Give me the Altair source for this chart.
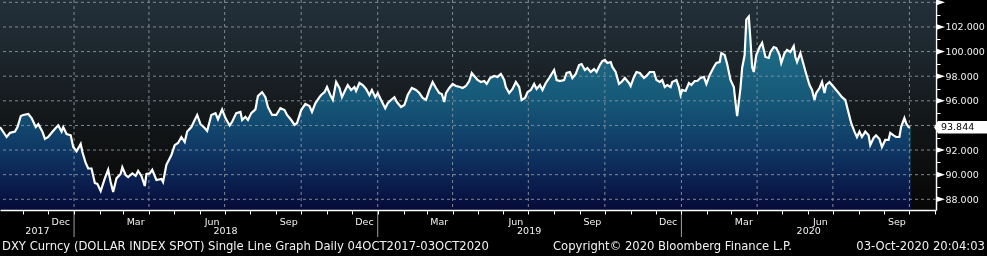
import altair as alt
import pandas as pd

START = "2017-10-04"

day_offsets = [
    0, 8, 12, 18, 21, 25, 28, 34, 38, 43,
    46, 51, 54, 58, 62, 67, 70, 74, 76, 80,
    85, 88, 92, 97, 99, 103, 106, 110, 114, 117,
    121, 126, 130, 133, 136, 140, 145, 147, 151, 154,
    159, 163, 166, 170, 174, 176, 180, 183, 188, 194,
    196, 200, 206, 210, 214, 218, 222, 225, 230, 234,
    237, 241, 246, 249, 254, 259, 262, 267, 271, 276,
    279, 284, 289, 291, 295, 298, 302, 307, 310, 315,
    319, 322, 327, 332, 337, 342, 345, 350, 354, 357,
    362, 367, 372, 375, 379, 384,
    386, 390, 393, 397, 400, 404, 408, 411, 415, 418,
    422, 426, 428, 432, 436, 440, 444, 447, 451, 454,
    458, 463, 466, 470, 474, 477, 482, 486, 490, 495,
    500, 504, 508, 512, 516, 520, 524, 528, 531, 534,
    536, 540, 544, 548, 553, 556, 560, 564, 567, 571,
    574, 578, 582, 585, 589, 594, 598, 602, 606, 608,
    612, 616, 620, 624, 627, 631, 634, 638, 642, 645,
    649, 652, 656, 660, 666, 669, 673, 678, 681, 685,
    688, 692, 696, 699, 703, 706, 710, 714, 717, 721,
    724, 727, 730, 734, 736, 740, 744, 747, 751, 756,
    758, 762, 765, 769, 774, 777, 781,
    786, 789, 793, 796, 799, 802, 806, 808, 813, 816,
    818, 820, 824, 828, 831, 835, 838, 842, 846, 849,
    853, 858, 861, 865, 867, 871, 874, 878, 882, 884,
    886, 890, 892, 895, 897, 900, 902, 904, 906, 909,
    913, 916, 920, 924, 926, 930, 933, 937, 939, 943,
    946, 950, 954, 956, 958, 962, 966, 969, 973, 976,
    979, 981, 985, 988, 991, 993, 997, 1000, 1004, 1008,
    1012, 1016, 1020, 1023, 1027, 1030, 1033, 1036, 1040, 1044,
    1046, 1050, 1053, 1057, 1060, 1064, 1068, 1070, 1074, 1077,
    1081, 1083, 1087, 1089, 1092, 1094,
]

dxy_values = [
    93.87, 93.06, 93.4, 93.5, 93.87, 94.77, 94.85, 94.93, 94.6, 93.87,
    94.1, 93.5, 92.9, 93.06, 93.4, 93.79, 94.0, 93.5, 93.87, 93.3,
    93.2, 92.25, 91.9, 92.5, 91.84, 90.95, 90.5, 90.5, 89.33, 89.25,
    88.67, 89.7, 90.4, 89.4, 88.6, 89.7, 90.05, 90.6, 89.97, 89.8,
    90.1, 89.9, 90.3, 89.9, 89.08, 90.05, 90.1, 90.4, 89.57, 89.65,
    89.4, 90.8, 91.6, 92.4, 92.57, 93.06, 92.65, 93.5, 93.87, 94.44,
    94.85, 94.1, 93.79, 93.55, 94.85, 95.0, 94.5, 95.3, 94.6, 94.0,
    94.3, 95.0, 95.1, 94.44, 94.7, 94.44, 95.0, 95.3, 96.39, 96.7,
    96.3, 95.5, 94.85, 94.85, 95.4, 95.25, 94.85, 94.44, 94.04, 94.2,
    95.25, 95.74, 95.58, 95.1, 95.8, 96.3,
    96.47, 96.7, 97.12, 96.47, 96.07, 97.53, 97.04, 96.3, 96.88, 97.28,
    96.88, 97.12, 96.8, 97.45, 97.28, 96.96, 96.47, 96.88, 96.3, 96.63,
    96.07, 95.4, 95.8, 96.07, 96.3, 95.9, 95.5, 95.66, 96.47, 97.04,
    96.88, 96.63, 96.23, 96.07, 96.88, 97.53, 97.04, 96.63, 96.55, 95.9,
    96.63, 97.04, 97.37, 97.2, 97.12, 97.04, 97.2, 97.61, 98.26, 97.94,
    97.69, 97.53, 97.61, 97.37, 97.85, 98.02, 97.94, 98.18, 97.69, 97.12,
    96.63, 96.96, 97.53, 97.12, 96.07, 96.23, 96.7, 96.88, 97.37, 96.96,
    97.28, 96.88, 97.45, 97.85, 98.5, 97.69, 97.61, 97.69, 98.26, 98.34,
    97.85, 98.18, 98.91, 98.99, 98.5, 98.67, 98.34, 98.58, 98.34, 98.91,
    99.23, 99.32, 99.07, 99.15, 98.75, 98.34, 97.37, 97.53, 97.85, 97.45,
    97.2, 97.94, 98.34, 98.26, 97.85, 98.02, 98.34,
    98.34, 97.69, 97.53, 97.69, 97.12, 97.28, 97.12, 97.53, 97.69, 97.12,
    96.47, 96.88, 96.8, 97.45, 97.28, 97.61, 97.61, 97.85, 97.94, 97.37,
    98.1, 98.75, 99.07, 99.15, 99.88, 99.72, 98.99, 97.69, 97.12, 95.9,
    94.75, 97.04, 98.67, 99.72, 102.6, 102.85, 100.94, 98.75, 98.34, 99.72,
    100.37, 100.7, 99.56, 99.48, 99.97, 100.37, 100.29, 99.72, 99.07, 99.88,
    100.13, 99.97, 100.45, 99.56, 99.15, 99.88, 98.91, 98.18, 97.28, 96.88,
    96.07, 96.63, 97.04, 97.53, 96.63, 97.28, 97.53, 97.28, 96.96, 96.63,
    96.3, 96.07, 95.0, 94.2, 93.5, 93.06, 93.5, 93.06, 93.5, 93.2,
    92.4, 92.98, 93.2, 92.9, 92.25, 92.82, 92.82, 93.4, 93.2, 93.06,
    93.06, 93.87, 94.6, 94.2, 93.87, 93.844,
]

assert len(day_offsets) == len(dxy_values)

y_tick_values = list(range(88, 105))
y_major_values = [88, 90, 92, 94, 96, 98, 100, 102, 104]

quarter_grid_dates = [
    "2018-01-01", "2018-04-01", "2018-07-01", "2018-10-01",
    "2019-01-01", "2019-04-01", "2019-07-01", "2019-10-01",
    "2020-01-01", "2020-04-01", "2020-07-01", "2020-10-01",
]

year_label_dates = ["2017-11-18", "2018-07-02", "2019-07-02", "2020-06-02"]
year_labels = ["2017", "2018", "2019", "2020"]
year_break_dates = ["2018-01-01", "2019-01-01", "2020-01-01"]

footer_left = "DXY Curncy (DOLLAR INDEX SPOT) Single Line Graph  Daily 04OCT2017-03OCT2020"
footer_mid = "Copyright\u00a9 2020 Bloomberg Finance L.P."
footer_right = "03-Oct-2020 20:04:03"

W, H = 936, 210
FONT = "DejaVu Sans"
LBL = "#f2f2f2"
GRID = "#7f8a94"

df = pd.DataFrame({
    "date": pd.to_datetime(START) + pd.to_timedelta(day_offsets, unit="D"),
    "value": dxy_values,
})
last_df = df.tail(1)
last_value = dxy_values[-1]

x_scale = alt.Scale(domain=[alt.DateTime(year=2017, month=10, date=4),
                            alt.DateTime(year=2020, month=11, date=2)])
y_scale = alt.Scale(domain=[87.13, 104.19], nice=False, zero=False)

month_ticks = []
for yr in range(2017, 2021):
    for mo in range(1, 13):
        if (2017, 11) <= (yr, mo) <= (2020, 11):
            month_ticks.append(alt.DateTime(year=yr, month=mo, date=1))

x_axis = alt.Axis(
    values=month_ticks, title=None, grid=False,
    labelExpr="(month(datum.value) % 3 == 2) ? timeFormat(datum.value, '%b') : ''",
    labelOffset=12, labelColor=LBL, labelFont=FONT, labelFontSize=9.5,
    labelPadding=2, labelOverlap=False, labelFlush=False, labelBound=False,
    tickSize=4, tickColor="white", domainColor="white", domainWidth=1.5,
    zindex=1,
)
# the last-value flag covers the tick label next to it, as in the original
y_axis = alt.Axis(
    values=y_tick_values, orient="right", title=None, grid=False,
    labelExpr=("(datum.value % 2 == 0 && datum.value < 104 && "
               f"abs(datum.value - {last_value}) > 1) ? format(datum.value, '.3f') : ''"),
    labelColor=LBL, labelFont=FONT, labelFontSize=9.5, labelPadding=5,
    labelOverlap=False, labelFlush=False, labelBound=False,
    tickSize=4, tickColor="white", domainColor="white", domainWidth=1.5,
)

X = lambda f: alt.X(f, scale=x_scale, axis=x_axis)
Y = lambda f: alt.Y(f, scale=y_scale, axis=y_axis, stack=None)

one = pd.DataFrame({"k": [0]})

# plot background (dark gradient)
bg = alt.Chart(one).mark_rect(
    color=alt.Gradient(gradient="linear", x1=0, x2=0, y1=0, y2=1,
                       stops=[alt.GradientStop(offset=0, color="#23303a"),
                              alt.GradientStop(offset=0.24, color="#1d272e"),
                              alt.GradientStop(offset=0.5, color="#151a1d"),
                              alt.GradientStop(offset=0.71, color="#0f1112"),
                              alt.GradientStop(offset=0.9, color="#0a0a0a"),
                              alt.GradientStop(offset=1, color="#060606")])
).encode(x=alt.value(0), x2=alt.value(W - 1), y=alt.value(0), y2=alt.value(H))

# area under the line as a white mask
area = alt.Chart(df).mark_area(color="white", clip=True).encode(
    x=X("date:T"), y=Y("value:Q"), y2=alt.value(H)
)

# teal gradient, darkened onto the mask
fill = alt.Chart(one).mark_rect(
    blend="darken",
    color=alt.Gradient(gradient="linear", x1=0, x2=0, y1=0, y2=1,
                       stops=[alt.GradientStop(offset=0, color="#23728b"),
                              alt.GradientStop(offset=0.24, color="#1d6a84"),
                              alt.GradientStop(offset=0.5, color="#155677"),
                              alt.GradientStop(offset=0.71, color="#0f3865"),
                              alt.GradientStop(offset=0.9, color="#0a1a4a"),
                              alt.GradientStop(offset=1, color="#060a36")])
).encode(x=alt.value(0), x2=alt.value(W - 1), y=alt.value(0), y2=alt.value(H))

vgrid = alt.Chart(pd.DataFrame({"date": pd.to_datetime(quarter_grid_dates)})).mark_rule(
    color=GRID, strokeWidth=1, strokeDash=[3, 3]
).encode(x=X("date:T"))

hgrid = alt.Chart(pd.DataFrame({"value": y_major_values})).mark_rule(
    color=GRID, strokeWidth=1, strokeDash=[3, 3]
).encode(y=Y("value:Q"))

line = alt.Chart(df).mark_line(color="white", strokeWidth=2.2).encode(
    x=X("date:T"), y=Y("value:Q"),
)

arrows = alt.Chart(pd.DataFrame({"value": y_major_values})).mark_point(
    shape="M0,-0.34L1,0L0,0.34Z", filled=True, color="white", opacity=1,
    size=324, strokeWidth=0,
).encode(x=alt.value(W), y=Y("value:Q"))

box = alt.Chart(last_df).mark_point(
    shape="M-1.12,0L-0.96,-0.25L1,-0.25L1,0.25L-0.96,0.25Z", filled=True,
    color="white", opacity=1, size=2500, strokeWidth=0,
).encode(x=alt.value(962), y=Y("value:Q"))

box_text = alt.Chart(last_df).mark_text(
    align="left", baseline="middle", font=FONT, fontSize=9.5, color="#000000",
).encode(x=alt.value(941), y=Y("value:Q"),
         text=alt.Text("value:Q", format=".3f"))

years = alt.Chart(pd.DataFrame({"date": pd.to_datetime(year_label_dates), "t": year_labels})).mark_text(
    align="center", baseline="middle", font=FONT, fontSize=9.5, color=LBL,
).encode(x=X("date:T"), y=alt.value(231), text="t:N")

breaks = alt.Chart(pd.DataFrame({"date": pd.to_datetime(year_break_dates)})).mark_rule(
    color="#a0a0a0", strokeWidth=1,
).encode(x=X("date:T"), y=alt.value(211), y2=alt.value(237))

def footer(txt, xpos, align):
    return alt.Chart(pd.DataFrame({"t": [txt]})).mark_text(
        align=align, baseline="middle", font=FONT, fontSize=11.6, color=LBL,
    ).encode(x=alt.value(xpos), y=alt.value(247), text="t:N")

chart = alt.layer(
    bg, area, fill, vgrid, hgrid, line, arrows, box, box_text, years, breaks,
    footer(footer_left, 2, "left"),
    footer(footer_mid, 553, "left"),
    footer(footer_right, 985, "right"),
).properties(
    width=W, height=H,
    autosize=alt.AutoSizeParams(type="none"),
    padding={"left": 0, "top": 0, "right": 51, "bottom": 46},
    background="#000000",
).configure_view(stroke=None)

chart.save("out.html", embed_options={"renderer": "svg", "actions": False})
